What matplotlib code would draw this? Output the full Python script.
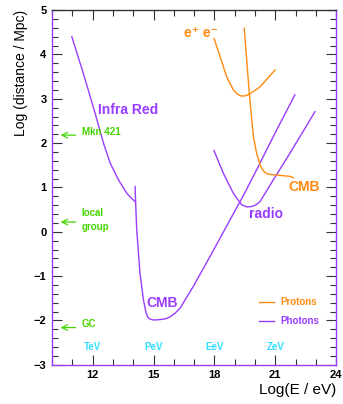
import matplotlib
matplotlib.use('Agg')
import matplotlib.pyplot as plt
from matplotlib.ticker import MultipleLocator

plt.rcParams['font.family'] = ['Liberation Sans', 'DejaVu Sans']
plt.rcParams['font.weight'] = 'bold'

purple = '#9a3cff'
orange = '#ff8a10'
green = '#44d600'
cyan = '#30e0ff'

# photons: infra red attenuation
ir_x = [10.97, 11.54, 12.12, 12.53, 12.86, 13.27, 13.68, 13.9, 14.09]
ir_y = [4.40, 3.57, 2.67, 2.00, 1.55, 1.17, 0.87, 0.76, 0.68]

# photons: CMB attenuation
cmbg_x = [14.09, 14.12, 14.17, 14.25, 14.33, 14.42, 14.50, 14.63, 14.72, 14.83, 15.0, 15.32,
          15.6, 15.81, 16.05, 16.31, 16.96, 17.78, 18.77, 19.5, 20.08, 21.07, 21.97]
cmbg_y = [1.02, 0.60, 0.05, -0.45, -0.93, -1.25, -1.53, -1.83, -1.93, -1.97, -1.99, -1.98,
          -1.96, -1.92, -1.84, -1.72, -1.23, -0.56, 0.27, 0.88, 1.40, 2.30, 3.09]

# photons: radio background
radio_x = [17.98, 18.44, 18.93, 19.34, 19.6, 19.84, 20.05, 20.25, 20.9, 21.72, 22.22, 22.96]
radio_y = [1.83, 1.32, 0.87, 0.61, 0.56, 0.57, 0.61, 0.68, 1.17, 1.77, 2.15, 2.71]

# protons: pair production
ee_x = [17.98, 18.28, 18.6, 18.93, 19.15, 19.34, 19.55, 19.75, 20.25, 20.99]
ee_y = [4.36, 3.95, 3.50, 3.20, 3.10, 3.06, 3.07, 3.11, 3.27, 3.65]

# protons: CMB (GZK)
cmbp_x = [19.47, 19.72, 19.92, 20.08, 20.28, 20.42, 20.58, 20.8, 21.07, 21.72, 21.89]
cmbp_y = [4.59, 3.12, 2.15, 1.77, 1.47, 1.37, 1.31, 1.29, 1.28, 1.25, 1.22]

# distance markers
src_names = ['Mkn 421', 'local\ngroup', 'GC']
src_y = [2.18, 0.22, -2.16]

# energy names
e_names = ['TeV', 'PeV', 'EeV', 'ZeV']
e_x = [12, 15, 18, 21]

fig = plt.figure(figsize=(3.43, 4.04), dpi=100)
ax = fig.add_axes([0.152, 0.097, 0.828, 0.878])

ax.plot(ir_x, ir_y, color=purple, lw=1.0)
ax.plot(cmbg_x, cmbg_y, color=purple, lw=1.0, label='Photons')
ax.plot(radio_x, radio_y, color=purple, lw=1.0)
ax.plot(ee_x, ee_y, color=orange, lw=1.0, label='Protons')
ax.plot(cmbp_x, cmbp_y, color=orange, lw=1.0)

ax.text(12.27, 2.75, 'Infra Red', color=purple, fontsize=10, va='center')
ax.text(19.7, 0.4, 'radio', color=purple, fontsize=10, va='center')
ax.text(14.63, -1.6, 'CMB', color=purple, fontsize=10, va='center')
ax.text(21.66, 1.02, 'CMB', color=orange, fontsize=10, va='center')
ax.text(16.5, 4.48, 'e\u207a e\u207b', color=orange, fontsize=10, va='center')

for name, y in zip(src_names, src_y):
    ax.annotate('', xy=(10.28, y), xytext=(11.3, y),
                arrowprops=dict(arrowstyle='->', color=green, lw=0.9))
    ax.text(11.45, y + (0.07 if '\n' not in name else 0.05), name, color=green,
            fontsize=7, va='center', linespacing=1.5)

for name, x in zip(e_names, e_x):
    ax.text(x, -2.6, name, color=cyan, fontsize=7, ha='center', va='center')

handles, labels = ax.get_legend_handles_labels()
leg = ax.legend(handles[::-1], labels[::-1], loc='lower right', bbox_to_anchor=(0.97, 0.085),
                frameon=False, fontsize=7, handlelength=1.6, handletextpad=0.6,
                labelspacing=0.9, labelcolor='linecolor')

ax.set_xlim(10, 24)
ax.set_ylim(-3, 5)
ax.xaxis.set_major_locator(MultipleLocator(3))
ax.xaxis.set_minor_locator(MultipleLocator(1))
ax.yaxis.set_major_locator(MultipleLocator(1))
ax.yaxis.set_minor_locator(MultipleLocator(0.2))
ax.set_xticks([12, 15, 18, 21, 24])
ax.tick_params(which='both', direction='in', top=True, right=True, color='#333333', width=0.8,
               labelsize=8, pad=4)
ax.tick_params(which='major', length=7)
ax.tick_params(which='minor', length=4)

for s in ['left', 'bottom', 'right']:
    ax.spines[s].set_color(purple)
ax.spines['top'].set_color('#333333')
for s in ax.spines.values():
    s.set_linewidth(1.0)

ax.set_xlabel('Log(E / eV)', fontsize=11, loc='right', labelpad=2)
ax.set_ylabel('Log (distance / Mpc)', fontsize=10, loc='top', labelpad=4)

fig.savefig('out.png', dpi=100)
